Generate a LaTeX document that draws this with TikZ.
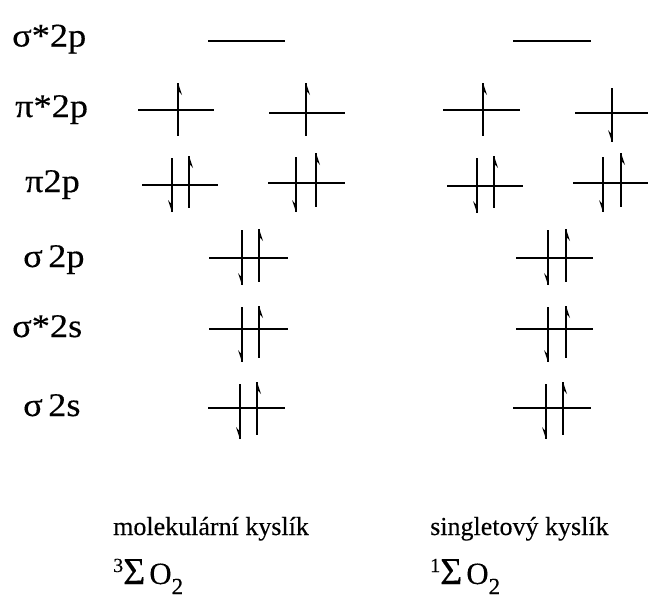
\documentclass[tikz,border=0pt]{standalone}
\usepackage{fontspec}
\setmainfont{Liberation Serif}[FakeBold=0.25]
\newfontfamily\labfont{Liberation Serif}[FakeBold=0.35,FakeStretch=1.1]
\begin{document}
\begin{tikzpicture}[x=1pt,y=-1pt,
  level/.style={line width=1.2pt},
  spin/.style={line width=1.6pt},
  lab/.style={anchor=base west,inner sep=0pt,font=\labfont\fontsize{33}{33}\selectfont},
  captxt/.style={anchor=base west,inner sep=0pt,font=\fontsize{26}{26}\selectfont},
  term/.style={anchor=base west,inner sep=0pt}]
\useasboundingbox (0,0) rectangle (648,598);
% up electron: x, top, bottom
\newcommand\eup[3]{\draw[spin] (#1,#2) -- (#1,#3);
  \fill (#1,#2) -- (#1+4,#2+12) -- (#1+1.5,#2+9) -- (#1,#2+9) -- cycle;}
\newcommand\edn[3]{\draw[spin] (#1,#2) -- (#1,#3);
  \fill (#1,#3) -- (#1-4,#3-12) -- (#1-1.5,#3-9) -- (#1,#3-9) -- cycle;}
\newcommand\lev[3]{\draw[level] (#1,#3) -- (#2,#3);}
\newcommand\termtxt[1]{{\fontsize{20}{20}\selectfont\raisebox{12pt}{#1}}{\fontsize{38}{38}\selectfont Σ}\hspace{4pt}{\fontsize{31}{31}\selectfont O}{\fontsize{23}{23}\selectfont\raisebox{-10pt}{2}}}
% labels
\node[lab] (s2pstar) at (12,46.5) {σ*2p};
\node[lab] (p2pstar) at (15,117) {π*2p};
\node[lab] (p2p) at (25,192) {π2p};
\node[lab] (s2p) at (23,267) {σ\,2p};
\node[lab] (s2sstar) at (12,337) {σ*2s};
\node[lab] (s2s) at (23,416) {σ\,2s};
% sigma*2p
\lev{208}{285}{41}
\lev{513}{591}{41}
% pi*2p
\lev{138}{214}{110} \eup{178}{83}{136}
\lev{269}{345}{113} \eup{306}{83}{136}
\lev{443}{520}{110} \eup{483}{83}{136}
\lev{575}{648}{113} \edn{612}{88}{142}
% pi2p
\lev{142}{218}{185} \edn{172}{158}{212} \eup{189}{156}{208}
\lev{268}{345}{183} \edn{296}{157}{212} \eup{316}{153}{207}
\lev{447}{523}{186} \edn{477}{158}{213} \eup{494}{156}{208}
\lev{573}{648}{183} \edn{603}{157}{212} \eup{621}{153}{207}
% sigma2p
\lev{209}{288}{258} \edn{242}{230}{285} \eup{259}{229}{282}
\lev{516}{593}{258} \edn{548}{230}{285} \eup{566}{229}{282}
% sigma*2s
\lev{209}{288}{329} \edn{242}{307}{362} \eup{259}{306}{358}
\lev{516}{593}{329} \edn{548}{307}{362} \eup{566}{306}{358}
% sigma2s
\lev{208}{285}{408} \edn{240}{384}{439} \eup{257}{382}{435}
\lev{513}{591}{408} \edn{546}{384}{439} \eup{563}{382}{435}
% captions
\node[captxt] (mol) at (113,535) {molekulární kyslík};
\node[captxt] (sing) at (430,535) {singletový kyslík};
\node[term] (t3) at (113,584) {\termtxt{3}};
\node[term] (t1) at (430,584) {\termtxt{1}};
\end{tikzpicture}
\end{document}
